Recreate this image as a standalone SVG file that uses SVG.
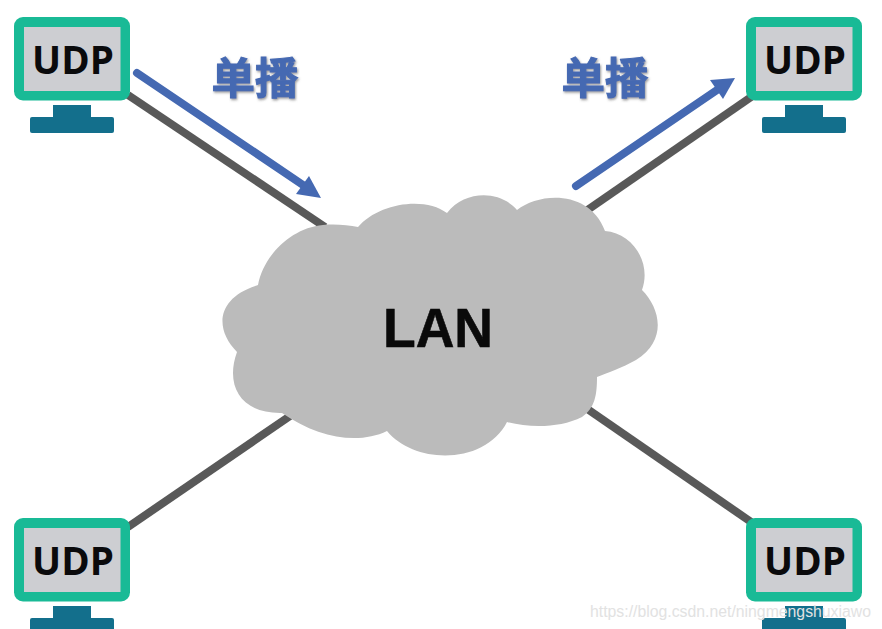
<svg xmlns="http://www.w3.org/2000/svg" width="882" height="629" viewBox="0 0 882 629">
<style>
.link{stroke:#595959;stroke-width:8;fill:none}
.flow{stroke:#4569b2;stroke-width:8;stroke-linecap:round;fill:none}
.head{fill:#4569b2}
.frame{fill:#19ba96}
.screen{fill:#cdced2}
.stand{fill:#136f8c}
.udp{font-family:"Open Sans","Noto Sans",sans-serif;font-weight:700;font-size:38.500px;fill:#0a0a0c;text-anchor:middle}
.uni{font-family:"Liberation Sans","Noto Sans CJK SC",sans-serif;font-weight:700;font-size:43.500px;fill:#4569b2;stroke:#4569b2;stroke-width:1;text-anchor:middle;filter:url(#sh)}
.lan{font-family:"Liberation Sans",Arial,sans-serif;font-weight:700;font-size:56px;fill:#0a0a0a;stroke:#0a0a0a;stroke-width:.6;text-anchor:middle}
.wm{font-family:"Liberation Sans",Arial,sans-serif;font-size:15.800px;fill:#e2e2e2}
</style>
<defs>
<filter id="sh" x="-20%" y="-20%" width="140%" height="140%"><feDropShadow dx="1" dy="1.5" stdDeviation="1.2" flood-color="#555" flood-opacity="0.6"/></filter>
<g id="pc">
<rect class="stand" x="39" y="88" width="38" height="20"/>
<rect class="stand" x="16" y="100" width="84" height="16" rx="2"/>
<rect class="frame" width="116" height="83.500" rx="9"/>
<rect class="screen" x="10" y="10" width="96.500" height="64"/>
</g>
</defs>
<rect width="882" height="629" fill="#fff"/>
<g id="connectors">
<line class="link" x1="128" y1="95" x2="325" y2="227"/>
<line class="link" x1="754" y1="95" x2="586" y2="211"/>
<line class="link" x1="128" y1="527" x2="290" y2="416"/>
<line class="link" x1="583" y1="406" x2="754" y2="524"/>
<line class="flow" x1="137" y1="73" x2="303" y2="185"/>
<polygon class="head" points="321,198 296,194 309,176"/>
<line class="flow" x1="576" y1="186" x2="717" y2="90"/>
<polygon class="head" points="735,78 710,80 723,99"/>
</g>
<g id="cloud">
<path fill="#bbbbbb" d="M258,285C263,257 290,228 323,225C335,224 348,225 358,227C378,203 425,196 447,213C465,190 500,190 517,210C540,192 590,190 605,231C632,233 652,262 642,290C660,308 668,340 636,360C622,368 607,373 597,377C597,395 595,408 582,417C560,428 530,428 507,422C485,465 415,465 387,431C358,445 318,438 282,413C240,414 225,385 237,352C215,330 215,298 258,285Z"/>
<text class="lan" x="438" y="347" textLength="110" lengthAdjust="spacingAndGlyphs">LAN</text>
</g>
<g id="pc-top-left"><use href="#pc" x="14" y="17"/><text class="udp" x="73" y="74">UDP</text></g>
<g id="pc-top-right"><use href="#pc" x="746" y="17"/><text class="udp" x="805" y="74">UDP</text></g>
<g id="pc-bottom-left"><use href="#pc" x="14" y="518"/><text class="udp" x="73" y="575">UDP</text></g>
<g id="pc-bottom-right"><use href="#pc" x="746" y="518"/><text class="udp" x="805" y="575">UDP</text></g>
<g id="label-left"><text class="uni" x="255" y="94">单播</text></g>
<g id="label-right"><text class="uni" x="605" y="94">单播</text></g>
<text class="wm" x="590" y="617">https://blog.csdn.net/ningmengshuxiawo</text>
</svg>
